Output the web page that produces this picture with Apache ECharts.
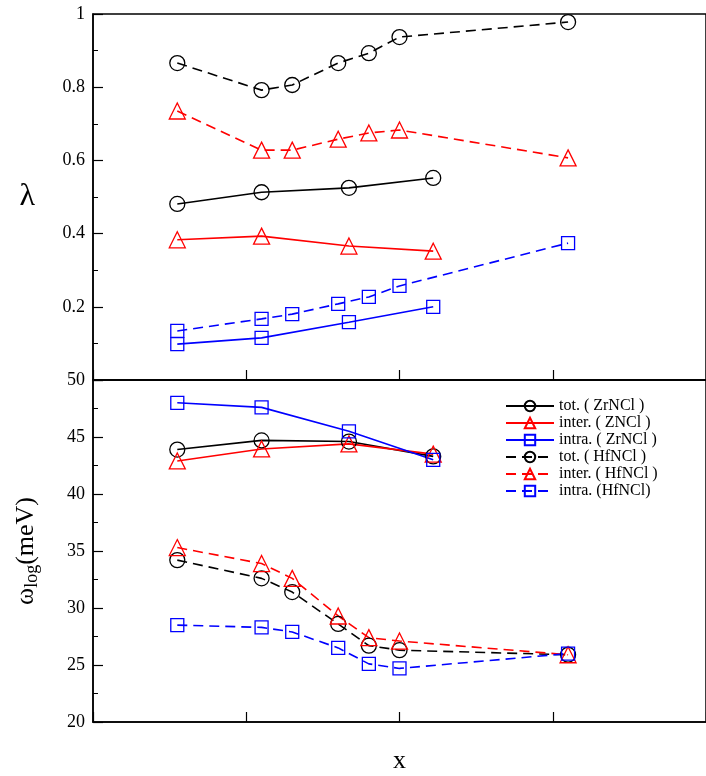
<!DOCTYPE html>
<html>
<head>
<meta charset="utf-8">
<script src="https://cdn.jsdelivr.net/npm/echarts@6/dist/echarts.min.js"></script>
<style>html,body{margin:0;padding:0;background:#fff}</style>
</head>
<body>
<div id="chart" style="width:706px;height:776px"></div>
<script>
// x positions
var xAll = [0.055, 0.11, 0.13, 0.16, 0.18, 0.2, 0.31];
var xZr = [0.055, 0.11, 0.167, 0.222];

// lambda (top panel)
var lamTotZr = [0.481, 0.513, 0.525, 0.552];
var lamInterZr = [0.383, 0.393, 0.366, 0.352];
var lamIntraZr = [0.098, 0.115, 0.158, 0.2];
var lamTotHf = [0.866, 0.792, 0.806, 0.866, 0.893, 0.937, 0.978];
var lamInterHf = [0.735, 0.628, 0.628, 0.658, 0.675, 0.683, 0.607];
var lamIntraHf = [0.134, 0.167, 0.18, 0.208, 0.227, 0.257, 0.374];

// omega_log (bottom panel)
var wTotZr = [43.9, 44.7, 44.6, 43.3];
var wInterZr = [42.9, 43.95, 44.4, 43.5];
var wIntraZr = [48.0, 47.6, 45.5, 43.0];
var wTotHf = [34.2, 32.6, 31.4, 28.6, 26.7, 26.3, 25.9];
var wInterHf = [35.3, 33.9, 32.6, 29.3, 27.4, 27.1, 25.9];
var wIntraHf = [28.5, 28.3, 27.9, 26.5, 25.1, 24.7, 26.0];

var names = ['tot. ( ZrNCl )', 'inter. ( ZNCl )', 'intra. ( ZrNCl )', 'tot. ( HfNCl )', 'inter. ( HfNCl )', 'intra. (HfNCl)'];
var colors = ['#000', '#f00', '#00f', '#000', '#f00', '#00f'];
var symbols = ['circle', 'triangle', 'rect', 'circle', 'triangle', 'rect'];

function pts(xs, ys) { return xs.map(function (x, i) { return [x, ys[i]]; }); }

var sets = [
  [xZr, lamTotZr, wTotZr], [xZr, lamInterZr, wInterZr], [xZr, lamIntraZr, wIntraZr],
  [xAll, lamTotHf, wTotHf], [xAll, lamInterHf, wInterHf], [xAll, lamIntraHf, wIntraHf]
];

var series = [];
sets.forEach(function (s, i) {
  var base = {
    name: names[i], type: 'line', symbol: symbols[i], symbolSize: i % 3 == 1 ? 16 : (i % 3 == 2 ? 13 : 15),
    showSymbol: true, showAllSymbol: true,
    itemStyle: { color: 'rgba(0,0,0,0)', borderColor: colors[i], borderWidth: 1.3, opacity: 1 },
    lineStyle: { color: colors[i], width: 1.6, type: i < 3 ? 'solid' : [10, 6] },
    z: 3
  };
  series.push(Object.assign({}, base, { xAxisIndex: 0, yAxisIndex: 0, data: pts(s[0], s[1]) }));
  series.push(Object.assign({}, base, { xAxisIndex: 1, yAxisIndex: 1, data: pts(s[0], s[2]) }));
});

var axisCommon = {
  axisLine: { show: true, lineStyle: { color: '#000', width: 1.5 } },
  axisTick: { show: true, inside: true, length: 10, lineStyle: { color: '#000', width: 1.2 } },
  minorTick: { show: true, splitNumber: 2, length: 5, lineStyle: { color: '#000' } },
  splitLine: { show: false },
  axisLabel: { color: '#000', fontSize: 18, fontFamily: 'Liberation Serif' }
};

function xAx(idx, showName) {
  return Object.assign({}, axisCommon, {
    type: 'value', gridIndex: idx, min: 0, max: 0.4, interval: 0.1,
    axisLabel: { show: false },
    minorTick: { show: false },
    name: showName ? 'x' : '', nameLocation: 'middle', nameGap: 26,
    nameTextStyle: { fontSize: 26, fontFamily: 'Liberation Serif', color: '#000' }
  });
}

var chart = echarts.init(document.getElementById('chart'));
chart.setOption({
  animation: false,
  grid: [
    { left: 93, right: 0, top: 14, height: 366, show: true, borderColor: '#000', borderWidth: 1.5 },
    { left: 93, right: 0, top: 380, height: 342, show: true, borderColor: '#000', borderWidth: 1.5 }
  ],
  xAxis: [xAx(0, false), xAx(1, true)],
  yAxis: [
    Object.assign({}, axisCommon, {
      type: 'value', gridIndex: 0, min: 0, max: 1, interval: 0.2,
      axisLabel: Object.assign({}, axisCommon.axisLabel, {
        formatter: function (v) { return v == 0 ? '' : (v == 1 ? '1' : v.toFixed(1)); }
      }),
      name: 'λ', nameLocation: 'middle', nameGap: 58, nameRotate: 0,
      nameTextStyle: { fontSize: 32, fontFamily: 'Liberation Serif', color: '#000' }
    }),
    Object.assign({}, axisCommon, {
      type: 'value', gridIndex: 1, min: 20, max: 50, interval: 5,
      name: '{a|ω}{b|log}{a|(meV)}', nameLocation: 'middle', nameGap: 52, nameRotate: 90,
      nameTextStyle: {
        color: '#000', fontFamily: 'Liberation Serif',
        rich: {
          a: { fontSize: 26, fontFamily: 'Liberation Serif', color: '#000' },
          b: { fontSize: 18, fontFamily: 'Liberation Serif', color: '#000', verticalAlign: 'bottom', padding: [12, 0, 0, 0] }
        }
      }
    })
  ],
  legend: {
    data: names, orient: 'vertical', left: 500, top: 393, itemGap: 1,
    itemWidth: 48, itemHeight: 13,
    textStyle: { fontSize: 16, fontFamily: 'Liberation Serif', color: '#000' }
  },
  series: series
});
</script>
</body>
</html>
